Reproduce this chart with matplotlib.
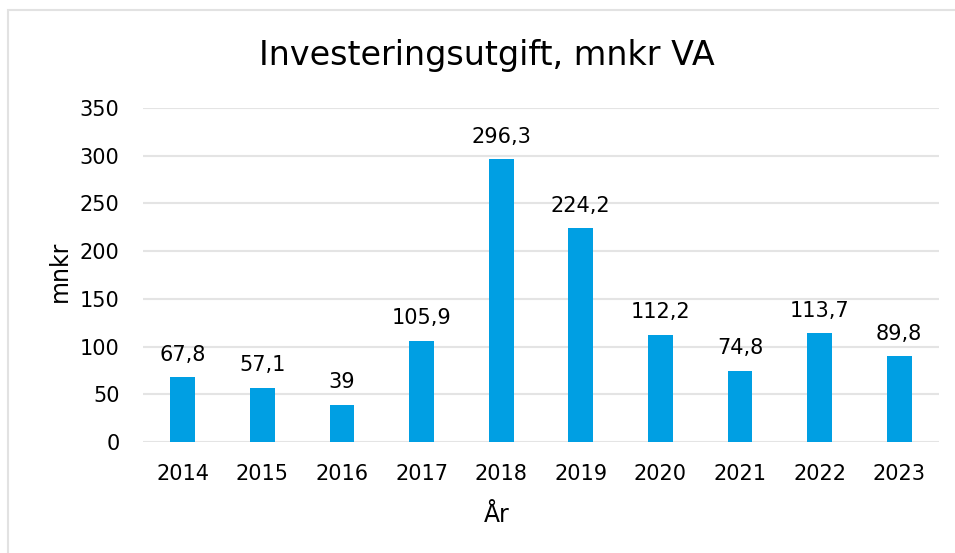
import matplotlib.pyplot as plt
from matplotlib.patches import Rectangle

years = ["2014", "2015", "2016", "2017", "2018", "2019", "2020", "2021", "2022", "2023"]
values = [67.8, 57.1, 39, 105.9, 296.3, 224.2, 112.2, 74.8, 113.7, 89.8]
value_labels = ["67,8", "57,1", "39", "105,9", "296,3", "224,2", "112,2", "74,8", "113,7", "89,8"]
yticks = [0, 50, 100, 150, 200, 250, 300, 350]

W, H = 955, 553
fig = plt.figure(figsize=(W / 100, H / 100), dpi=100)
ax = fig.add_axes([143 / W, 1 - 442 / H, (939 - 143) / W, (442 - 108) / H])

x = range(len(years))
ax.bar(x, values, width=0.31, color="#009FE3", zorder=3)
for i, (v, lab) in enumerate(zip(values, value_labels)):
    ax.annotate(lab, (i, v), xytext=(0, 9), textcoords="offset points",
                ha="center", va="bottom", fontsize=15)

ax.set_xlim(-0.5, len(years) - 0.5)
ax.set_ylim(0, 350)
ax.set_yticks(yticks)
ax.set_xticks(list(x))
ax.set_xticklabels(years)
ax.tick_params(axis="both", length=0, labelsize=15)
ax.tick_params(axis="y", pad=17)
ax.tick_params(axis="x", pad=16)
ax.grid(axis="y", color="#e4e4e4", linewidth=1.5, zorder=0)
for s in ax.spines.values():
    s.set_visible(False)

# axis titles placed like in the source chart (not centred on the plot area)
fig.text(60 / W, 1 - 271 / H, "mnkr", fontsize=17, rotation=90,
         ha="center", va="center")
fig.text(497 / W, 1 - 515 / H, "År", fontsize=17, ha="center", va="center")
fig.text(487 / W, 1 - 55 / H, "Investeringsutgift, mnkr VA", fontsize=24,
         ha="center", va="center")

fig.add_artist(Rectangle((8 / W, -0.05), 1.1, 1 - 10 / H + 0.05,
                         transform=fig.transFigure, fill=False,
                         edgecolor="#e2e2e2", linewidth=1.5))

fig.savefig("out.png", dpi=100)
